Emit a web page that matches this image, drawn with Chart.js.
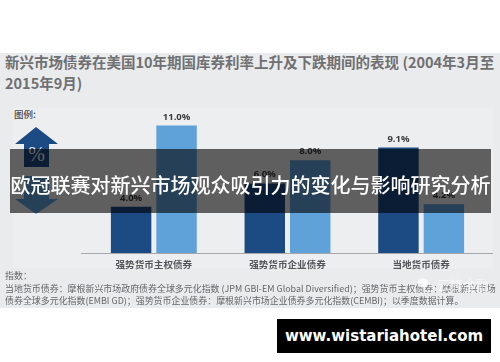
<!DOCTYPE html>
<html>
<head>
<meta charset="utf-8">
<script src="https://cdn.jsdelivr.net/npm/chart.js@4"></script>
<style>
  html, body { margin: 0; padding: 0; background: #fff; }
  body { position: relative; width: 500px; height: 362px; overflow: hidden; font-family: "Noto Sans CJK SC", sans-serif; }
  .abs { position: absolute; white-space: nowrap; }
  #panel { left: 0; top: 53px; width: 500px; height: 255px; background: #eaebed; }
  #plot { left: 13px; top: 108px; width: 480px; height: 160px; background: #edeef0; }
  #wrap { left: 0; top: 0; width: 500px; height: 362px; }
  #title { left: 5px; top: 51px; font-size: 14.5px; line-height: 21px; font-weight: 700; color: #6f7072; }
  #legendTitle { left: 14px; top: 107px; font-size: 9.5px; line-height: 14px; font-weight: 500; color: #4a4b4d; }
  #notes { left: 5px; top: 270px; font-size: 8.95px; line-height: 12.5px; color: #66676a; }
  #mark { left: 437px; top: 278px; font-size: 13px; line-height: 14px; color: rgba(255,255,255,.7); }
  #band { left: 10px; top: 149px; width: 481px; height: 64px; background: rgba(0,0,0,.6); color: #fff; font-size: 20px; font-weight: 500; line-height: 72px; text-align: center; }
  #url { left: 277px; top: 319px; width: 214px; height: 34px; background: #000; color: #fff; font-family: "DejaVu Sans", sans-serif; font-size: 15px; font-weight: 700; line-height: 34px; text-align: center; }
</style>
</head>
<body>
<div class="abs" id="panel"></div>
<div class="abs" id="plot"></div>
<div class="abs" id="title">新兴市场债券在美国10年期国库券利率上升及下跌期间的表现 (2004年3月至<br>2015年9月)</div>
<div class="abs" id="legendTitle">图例:</div>
<svg class="abs" style="left:0;top:120px" width="70" height="100">
  <path d="M36 7 L58 24 L49 24 L49 47 L24 47 L24 24 L15 24 Z" fill="#1c4a82"/>
  <path d="M24 56 L49 56 L49 79 L58 79 L36 94 L15 79 L24 79 Z" fill="#5fa1d9"/>
  <text x="36.5" y="41" font-size="20" font-family="Liberation Serif" fill="#e6e8ea" text-anchor="middle">%</text>
</svg>
<div class="abs" id="wrap"><canvas id="chart" width="500" height="362"></canvas></div>
<div class="abs" id="notes">指数：<br>当地货币债券：摩根新兴市场政府债券全球多元化指数 (JPM GBI-EM Global Diversified)；强势货币主权债券：摩根新兴市场<br>债券全球多元化指数(EMBI GD)；强势货币企业债券：摩根新兴市场企业债券多元化指数(CEMBI)；以季度数据计算。</div>
<svg class="abs" style="left:416px;top:276px" width="20" height="18">
  <ellipse cx="7" cy="7" rx="5.5" ry="4.5" fill="rgba(255,255,255,.8)"/>
  <ellipse cx="13" cy="12" rx="4.5" ry="3.5" fill="none" stroke="rgba(255,255,255,.8)"/>
</svg>
<div class="abs" id="mark">云锋金融</div>
<div class="abs" id="band">欧冠联赛对新兴市场观众吸引力的变化与影响研究分析</div>
<div class="abs" id="url">www.wistariahotel.com</div>
<script>
const categories = ["强势货币主权债券", "强势货币企业债券", "当地货币债券"];
const risingRates = [4.0, 6.0, 9.1];
const fallingRates = [11.0, 8.0, 4.2];

// value labels above the bars, no datalabels plugin available here
const barLabels = {
  id: "barLabels",
  afterDatasetsDraw(chart) {
    const ctx = chart.ctx;
    ctx.save();
    ctx.font = "700 9.5px 'Open Sans'";
    ctx.fillStyle = "#3a3b3d";
    ctx.textAlign = "center";
    ctx.textBaseline = "bottom";
    chart.data.datasets.forEach((ds, i) => {
      chart.getDatasetMeta(i).data.forEach((bar, j) => {
        ctx.fillText(ds.data[j].toFixed(1) + "%", bar.x, bar.y - 4);
      });
    });
    ctx.restore();
  },
};

// baseline runs a bit wider than the plot area
const baseLine = {
  id: "baseLine",
  afterDatasetsDraw(chart) {
    const ctx = chart.ctx;
    const area = chart.chartArea;
    ctx.save();
    ctx.strokeStyle = "#a5a7aa";
    ctx.lineWidth = 1;
    ctx.beginPath();
    ctx.moveTo(area.left - 6, area.bottom + 0.5);
    ctx.lineTo(area.right + 5, area.bottom + 0.5);
    ctx.stroke();
    ctx.restore();
  },
};

new Chart(document.getElementById("chart"), {
  type: "bar",
  plugins: [barLabels, baseLine],
  data: {
    labels: categories,
    datasets: [
      {
        label: "利率上升",
        data: risingRates,
        backgroundColor: "#1c4a82",
        categoryPercentage: 0.68,
        barPercentage: 0.89,
      },
      {
        label: "利率下跌",
        data: fallingRates,
        backgroundColor: "#5fa1d9",
        categoryPercentage: 0.68,
        barPercentage: 0.89,
      },
    ],
  },
  options: {
    responsive: false,
    animation: false,
    layout: { padding: { left: 87, right: 12, top: 114, bottom: 0 } },
    plugins: {
      legend: { display: false },
      title: { display: false },
      tooltip: { enabled: false },
    },
    scales: {
      y: { display: false, min: 0, max: 12 },
      x: {
        afterFit(scale) {
          scale.height = 109;
        },
        grid: { display: false, drawBorder: false },
        border: { display: false },
        ticks: {
          padding: -2,
          color: "#55565a",
          maxRotation: 0,
          font: { size: 9.6, family: "Noto Sans CJK SC", weight: "700" },
        },
      },
    },
  },
});
</script>
</body>
</html>
